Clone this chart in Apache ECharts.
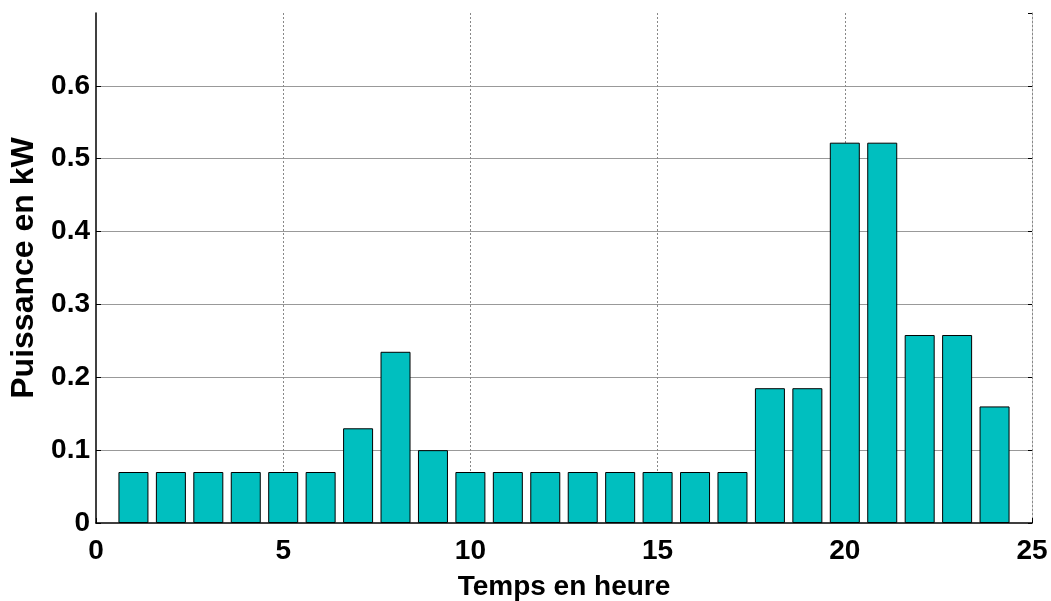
<!DOCTYPE html>
<html>
<head>
<meta charset="utf-8">
<script src="https://cdn.jsdelivr.net/npm/echarts@6/dist/echarts.min.js"></script>
<style>
  html, body { margin: 0; padding: 0; background: #fff; }
  #chart { width: 1051px; height: 601px; }
</style>
</head>
<body>
<div id="chart"></div>
<script>
// Hourly power demand (kW)
const hours = [1, 2, 3, 4, 5, 6, 7, 8, 9, 10, 11, 12, 13, 14, 15, 16, 17, 18, 19, 20, 21, 22, 23, 24];
const power = [0.07, 0.07, 0.07, 0.07, 0.07, 0.07, 0.13, 0.235, 0.10, 0.07, 0.07, 0.07,
               0.07, 0.07, 0.07, 0.07, 0.07, 0.185, 0.185, 0.522, 0.522, 0.258, 0.258, 0.16];
const xTitle = 'Temps en heure';
const yTitle = 'Puissance en kW';

const chart = echarts.init(document.getElementById('chart'));
const font = { fontFamily: 'Liberation Sans, Arial, sans-serif', fontWeight: 'bold', color: '#000' };

chart.setOption({
  animation: false,
  backgroundColor: '#fff',
  grid: { left: 96, right: 19, top: 13, bottom: 78, containLabel: false, outerBoundsMode: 'none' },
  xAxis: {
    type: 'value', min: 0, max: 25, interval: 5,
    name: xTitle, nameLocation: 'middle', nameGap: 50,
    nameTextStyle: Object.assign({ fontSize: 28 }, font),
    axisLine: { show: true, onZero: false, lineStyle: { color: '#000', width: 1.5 } },
    axisTick: { show: true, inside: true, length: 5, lineStyle: { color: '#000' } },
    axisLabel: Object.assign({ fontSize: 28, margin: 14 }, font),
    splitLine: { show: true, showMinLine: false, lineStyle: { color: '#888', type: [2, 2], width: 1 } }
  },
  yAxis: [{
    type: 'value', min: 0, max: 0.7, interval: 0.1,
    name: yTitle, nameLocation: 'middle', nameGap: 56, nameRotate: 90,
    nameTextStyle: Object.assign({ fontSize: 32 }, font),
    axisLine: { show: true, lineStyle: { color: '#000', width: 1.5 } },
    axisTick: { show: true, inside: true, length: 5, lineStyle: { color: '#000' } },
    axisLabel: Object.assign({ fontSize: 28, margin: 6, showMaxLabel: false,
      formatter: v => v === 0 ? '0' : v.toFixed(1) }, font),
    splitLine: { show: true, showMinLine: false, showMaxLine: false, lineStyle: { color: '#999', width: 1 } }
  }, {
    type: 'value', min: 0, max: 0.7, interval: 0.1, position: 'right',
    axisLine: { show: true, lineStyle: { color: '#888', type: [2, 2], width: 1 } },
    axisTick: { show: true, inside: true, length: 4, lineStyle: { color: '#000' } },
    axisLabel: { show: false },
    splitLine: { show: false }
  }],
  series: [{
    type: 'bar',
    yAxisIndex: 0,
    barWidth: 30,
    data: hours.map((h, i) => [h, power[i]]),
    itemStyle: { color: '#00BFBF', borderColor: '#000', borderWidth: 1 }
  }]
});
</script>
</body>
</html>
